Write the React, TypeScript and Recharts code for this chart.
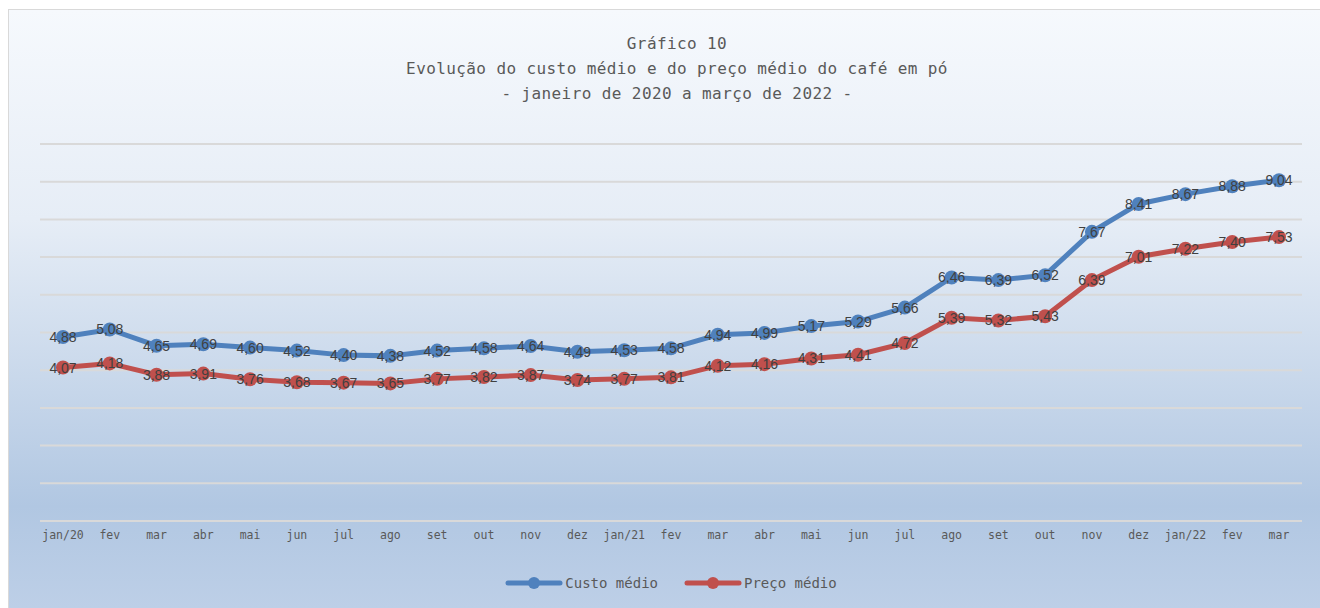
import { LineChart, Line, XAxis, YAxis, CartesianGrid, LabelList, Legend } from 'recharts';

const meses = ['jan/20', 'fev', 'mar', 'abr', 'mai', 'jun', 'jul', 'ago', 'set', 'out', 'nov', 'dez', 'jan/21', 'fev', 'mar', 'abr', 'mai', 'jun', 'jul', 'ago', 'set', 'out', 'nov', 'dez', 'jan/22', 'fev', 'mar'];
const custoMedio = [4.88, 5.08, 4.65, 4.69, 4.6, 4.52, 4.4, 4.38, 4.52, 4.58, 4.64, 4.49, 4.53, 4.58, 4.94, 4.99, 5.17, 5.29, 5.66, 6.46, 6.39, 6.52, 7.67, 8.41, 8.67, 8.88, 9.04];
const precoMedio = [4.07, 4.18, 3.88, 3.91, 3.76, 3.68, 3.67, 3.65, 3.77, 3.82, 3.87, 3.74, 3.77, 3.81, 4.12, 4.16, 4.31, 4.41, 4.72, 5.39, 5.32, 5.43, 6.39, 7.01, 7.22, 7.4, 7.53];
const yTicks = [0, 1, 2, 3, 4, 5, 6, 7, 8, 9, 10];

const data = meses.map((mes, i) => ({ mes, custo: custoMedio[i], preco: precoMedio[i] }));

const AZUL = '#4f81bd';
const VERMELHO = '#c0504d';
const MONO = '"DejaVu Sans Mono", "Liberation Mono", monospace';
const SANS = '"Liberation Sans", Arial, sans-serif';

const fmt = (v: any) => Number(v).toFixed(2).replace('.', ',');

function LegendaCafe() {
  const items = [
    { name: 'Custo médio', color: AZUL },
    { name: 'Preço médio', color: VERMELHO },
  ];
  return (
    <div style={{ display: 'flex', justifyContent: 'center', gap: 26, paddingTop: 14 }}>
      {items.map((it) => (
        <div key={it.name} style={{ display: 'flex', alignItems: 'center' }}>
          <svg width={58} height={14}>
            <line x1={3} y1={7} x2={55} y2={7} stroke={it.color} strokeWidth={5} strokeLinecap="round" />
            <circle cx={29} cy={7} r={6} fill={it.color} />
          </svg>
          <span style={{ fontFamily: MONO, fontSize: 14, color: '#595959', marginLeft: 2 }}>{it.name}</span>
        </div>
      ))}
    </div>
  );
}

export default function App() {
  return (
    <>
      <style>{'body{margin:0;overflow:hidden}'}</style>
      <div
        style={{
          position: 'absolute',
          left: 8,
          top: 9,
          width: 1312,
          height: 599,
          boxSizing: 'border-box',
          borderTop: '1px solid #d9d9d9',
          borderLeft: '1px solid #d9d9d9',
          background: 'linear-gradient(to bottom, #f6f9fd 0%, #e6edf6 35%, #b1c7e2 83%, #bdcfe7 100%)',
        }}
      >
        <div
          style={{
            position: 'absolute',
            left: 268,
            top: 21,
            width: 800,
            textAlign: 'center',
            fontFamily: MONO,
            fontSize: 16,
            letterSpacing: '0.4px',
            lineHeight: '25px',
            color: '#595959',
          }}
        >
          <div>Gráfico 10</div>
          <div>Evolução do custo médio e do preço médio do café em pó</div>
          <div>- janeiro de 2020 a março de 2022 -</div>
        </div>
        <LineChart width={1311} height={598} data={data} margin={{ top: 134, right: 18, left: 31, bottom: 13 }}>
          <CartesianGrid vertical={false} stroke="#d9d9d9" strokeWidth={2} />
          <XAxis
            dataKey="mes"
            interval={0}
            height={40}
            padding={{ left: 23, right: 23 }}
            axisLine={false}
            tickLine={false}
            tickMargin={4}
            tick={{ fill: '#595959', fontSize: 11.5, fontFamily: MONO }}
          />
          <YAxis hide domain={[0, 10]} ticks={yTicks} />
          <Legend verticalAlign="bottom" height={34} content={() => <LegendaCafe />} />
          <Line
            type="linear"
            dataKey="custo"
            name="Custo médio"
            stroke={AZUL}
            strokeWidth={5}
            dot={{ r: 7, fill: AZUL, stroke: 'none' }}
            isAnimationActive={false}
          >
            <LabelList dataKey="custo" position="center" formatter={fmt} fill="#404040" fontSize={14} fontFamily={SANS} />
          </Line>
          <Line
            type="linear"
            dataKey="preco"
            name="Preço médio"
            stroke={VERMELHO}
            strokeWidth={5}
            dot={{ r: 7, fill: VERMELHO, stroke: 'none' }}
            isAnimationActive={false}
          >
            <LabelList dataKey="preco" position="center" formatter={fmt} fill="#404040" fontSize={14} fontFamily={SANS} />
          </Line>
        </LineChart>
      </div>
    </>
  );
}
